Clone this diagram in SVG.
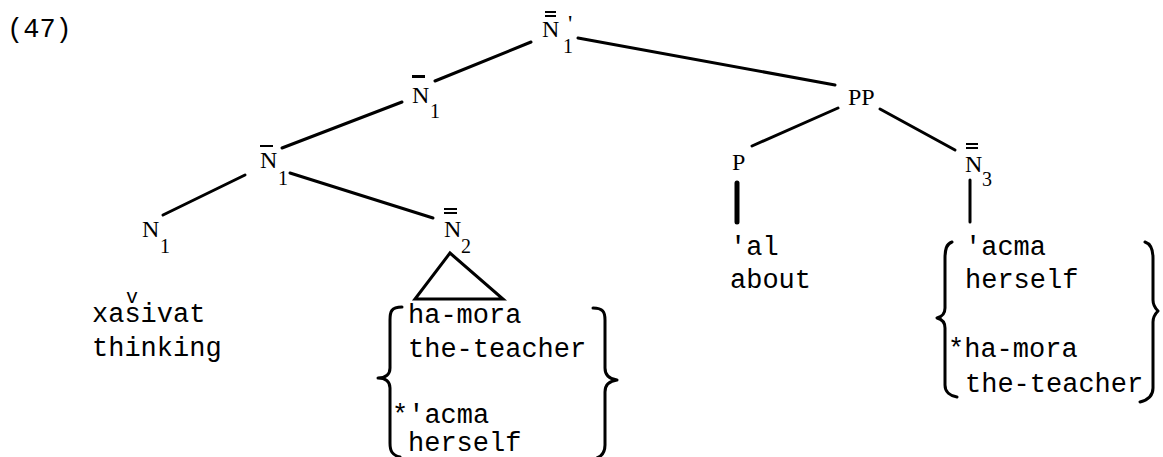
<svg xmlns="http://www.w3.org/2000/svg" width="1163" height="457" viewBox="0 0 1163 457">
<style>
.tw{font-family:"Liberation Mono","Courier New",monospace;font-size:27px;fill:#000}
.nd{font-family:"Liberation Serif","Times New Roman",serif;font-size:24px;fill:#000}
.sb{font-size:20px}
.ln{stroke:#000;stroke-width:3;fill:none;stroke-linecap:round}
.bar{stroke:#000;stroke-width:2}
.br{stroke:#000;stroke-width:3;fill:none;stroke-linecap:round;stroke-linejoin:round}
</style>
<rect width="1163" height="457" fill="#fff"/>
<text class="tw" x="7" y="37">(47)</text>
<g id="connectors">
<line class="ln" x1="531" y1="42" x2="435" y2="81"/>
<line class="ln" x1="578" y1="38" x2="835" y2="85"/>
<line class="ln" x1="402" y1="102" x2="282" y2="148"/>
<line class="ln" x1="245" y1="175" x2="163" y2="215"/>
<line class="ln" x1="290" y1="173" x2="433" y2="218"/>
<line class="ln" x1="838" y1="108" x2="752" y2="146"/>
<line class="ln" x1="880" y1="109" x2="955" y2="150"/>
<line class="ln" x1="737" y1="183" x2="737" y2="222" style="stroke-width:5"/>
<line class="ln" x1="970" y1="180" x2="970" y2="222"/>
<polygon class="ln" points="450,253 415,299 503,299"/>
</g>
<g id="root">
<line class="bar" x1="545" y1="12" x2="556" y2="12"/>
<line class="bar" x1="545" y1="16" x2="556" y2="16"/>
<text class="nd"><tspan x="542" y="37">N</tspan><tspan x="568" y="31">'</tspan><tspan class="sb" x="563" y="53">1</tspan></text>
</g>
<g id="nbar1a">
<line x1="412" y1="76.5" x2="425" y2="76.5" stroke="#000" stroke-width="3"/>
<text class="nd"><tspan x="412" y="103">N</tspan><tspan class="sb" x="430" y="118">1</tspan></text>
</g>
<g id="nbar1b">
<line class="bar" x1="260" y1="146" x2="273" y2="146"/>
<text class="nd"><tspan x="260" y="168">N</tspan><tspan class="sb" x="278" y="185">1</tspan></text>
</g>
<g id="n1">
<text class="nd"><tspan x="142" y="237">N</tspan><tspan class="sb" x="160" y="253">1</tspan></text>
</g>
<g id="n2">
<line class="bar" x1="444" y1="209" x2="457" y2="209"/>
<line class="bar" x1="444" y1="213" x2="457" y2="213"/>
<text class="nd"><tspan x="444" y="237">N</tspan><tspan class="sb" x="461" y="253">2</tspan></text>
</g>
<g id="pp"><text class="nd" x="848" y="105">PP</text></g>
<g id="p"><text class="nd" x="732" y="170">P</text></g>
<g id="n3">
<line class="bar" x1="966" y1="144" x2="978" y2="144"/>
<line class="bar" x1="966" y1="148" x2="978" y2="148"/>
<text class="nd"><tspan x="965" y="172">N</tspan><tspan class="sb" x="982" y="186">3</tspan></text>
</g>
<g id="leaf-xasivat">
<text class="tw"><tspan x="92" y="322">xa</tspan><tspan x="126" y="303" style="font-size:20px">v</tspan><tspan x="124.4" y="322">sivat</tspan></text>
<text class="tw" x="92" y="356">thinking</text>
</g>
<g id="leaf-n2">
<path class="br" d="M402,307 C391,307 390,312 390,320 L390,368 C390,374 386,378 378,378 C386,378 390,382 390,388 L390,443 C390,451 392,455 400,457"/>
<path class="br" d="M593,308 C603,308 605,312 605,320 L605,368 C605,375 609,379 617,380 C609,381 605,385 605,392 L605,445 C605,452 602,456 597,458"/>
<text class="tw" x="408" y="323">ha-mora</text>
<text class="tw" x="408" y="357">the-teacher</text>
<text class="tw" x="392" y="423">*'acma</text>
<text class="tw" x="408" y="451">herself</text>
</g>
<g id="leaf-p">
<text class="tw" x="730" y="255">'al</text>
<text class="tw" x="730" y="288">about</text>
</g>
<g id="leaf-n3">
<path class="br" d="M952,242 C946,244 945,250 945,258 L945,308 C945,314 941,317 937,318 C941,319 945,322 945,328 L945,385 C945,392 950,396 957,397"/>
<path class="br" d="M1145,242 C1151,244 1153,250 1153,258 L1153,300 C1153,306 1156,309 1158,311 C1156,313 1153,316 1153,322 L1153,388 C1153,396 1148,400 1140,402"/>
<text class="tw" x="965" y="255">'acma</text>
<text class="tw" x="965" y="288">herself</text>
<text class="tw" x="948" y="357">*ha-mora</text>
<text class="tw" x="965" y="392">the-teacher</text>
</g>
</svg>
